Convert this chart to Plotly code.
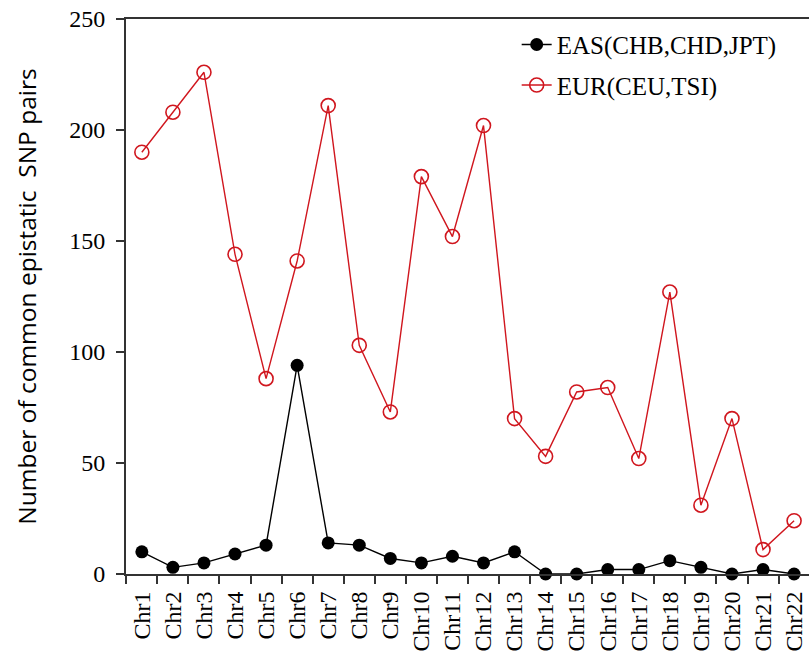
import plotly.graph_objects as go

categories = ["Chr%d" % i for i in range(1, 23)]
eas_values = [10, 3, 5, 9, 13, 94, 14, 13, 7, 5, 8, 5, 10, 0, 0, 2, 2, 6, 3, 0, 2, 0]
eur_values = [190, 208, 226, 144, 88, 141, 211, 103, 73, 179, 152, 202, 70, 53, 82, 84, 52, 127, 31, 70, 11, 24]
y_ticks = [0, 50, 100, 150, 200, 250]

SERIF = "Liberation Serif, Times New Roman, serif"
AXIS_COLOR = "#333333"
RED = "#d0161e"

fig = go.Figure()
fig.add_trace(go.Scatter(
    x=categories, y=eas_values, mode="lines+markers",
    name="EAS(CHB,CHD,JPT)", legendgroup="eas",
    line=dict(color="black", width=1.4),
    marker=dict(symbol="circle", size=13, color="black"),
    cliponaxis=False,
))
fig.add_trace(go.Scatter(
    x=categories, y=eur_values, mode="lines+markers",
    name="EUR(CEU,TSI)", legendgroup="eur",
    line=dict(color=RED, width=1.4),
    marker=dict(symbol="circle-open", size=14, color=RED, line=dict(width=1.6)),
    cliponaxis=False,
))

fig.update_layout(
    width=809, height=652,
    margin=dict(l=126, r=0, t=19, b=78, pad=0),
    plot_bgcolor="white", paper_bgcolor="white",
    showlegend=True,
    legend=dict(
        x=0.572, y=0.995, xanchor="left", yanchor="top",
        font=dict(family=SERIF, size=25, color="black"),
        bgcolor="rgba(0,0,0,0)",
        tracegroupgap=5,
    ),
)
fig.update_xaxes(
    type="category",
    categoryorder="array", categoryarray=categories,
    range=[-0.51, 21.48],
    tickson="boundaries",
    ticks="outside", ticklen=8, tickwidth=1.5, tickcolor=AXIS_COLOR,
    tickangle=-90,
    tickfont=dict(family=SERIF, size=24, color="black"),
    showline=True, linecolor=AXIS_COLOR, linewidth=2, mirror=True,
    showgrid=False, zeroline=False,
    ticklabelstandoff=6,
    automargin=False,
)
fig.update_yaxes(
    range=[0, 250],
    tickmode="array", tickvals=y_ticks,
    ticks="outside", ticklen=8, tickwidth=1.5, tickcolor=AXIS_COLOR,
    tickfont=dict(family=SERIF, size=24, color="black"),
    showline=True, linecolor=AXIS_COLOR, linewidth=2,
    showgrid=False, zeroline=False,
    title=dict(text="Number of common epistatic  SNP pairs",
               font=dict(family="Open Sans, sans-serif", size=24.5, color="black"),
               standoff=26),
    ticklabelstandoff=6,
    automargin=False,
)

fig.write_html("out.html")
